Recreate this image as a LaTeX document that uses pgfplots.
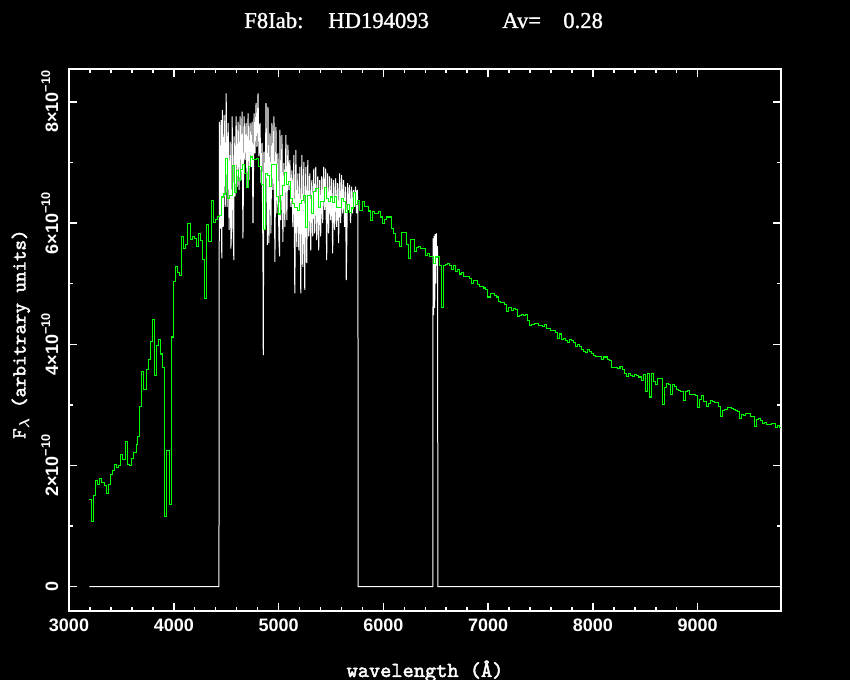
\documentclass[border=0pt]{standalone}
\usepackage{amsmath}
\usepackage{pgfplots}
\pgfplotsset{compat=1.18}
\usepackage{fontspec}
\setmainfont{Liberation Serif}
\newfontfamily\titlefont[FakeBold=1.2]{Liberation Serif}
\newfontfamily\tickfont{Liberation Sans}
\newfontfamily\labfont[FakeBold=2.2]{lmmono10-regular.otf}
\newcommand\yl[1]{#1×10\raisebox{0.85ex}{\fontsize{9.5}{9.5}\selectfont −10}}
\begin{document}
\begin{tikzpicture}
\useasboundingbox (0pt,0pt) rectangle (637.5pt,510pt);
\fill[black] (0pt,0pt) rectangle (637.5pt,510pt);
\begin{axis}[
  at={(51.75pt,51.75pt)}, anchor=south west,
  scale only axis, width=534pt, height=406.35pt,
  xmin=3000, xmax=9795, ymin=-0.40, ymax=8.54,
  axis line style={white, line width=1.3pt},
  tick align=inside,
  xtick={3000,4000,5000,6000,7000,8000,9000},
  xticklabels={3000,4000,5000,6000,7000,8000,9000},
  minor x tick num=4,
  ytick={0,2,4,6,8},
  yticklabels={0,\yl{2},\yl{4},\yl{6},\yl{8}},
  minor y tick num=1,
  major tick length=6pt, minor tick length=3.2pt,
  every tick/.style={white, line width=1.1pt},
  tick label style={white, font=\tickfont\bfseries\fontsize{13.5}{14}\selectfont},
  xticklabel shift=2.25pt,
  yticklabel style={rotate=90, anchor=south},
  yticklabel shift=4.5pt,
  xlabel={wavelength (Å)},
  ylabel={F\raisebox{-0.45ex}{\fontsize{11}{11}\selectfont$\boldsymbol{\lambda}$} (arbitrary units)},
  label style={white},
  xlabel style={font=\labfont\fontsize{16}{17}\selectfont, at={(axis description cs:0.5,-0.1218)}, anchor=base},
  ylabel style={font=\labfont\fontsize{15}{16}\selectfont, at={(axis description cs:-0.0611,0.511)}, anchor=base},
]
% observed spectrum (white)
\addplot[white, line width=0.75pt] coordinates {
(3194,0) (4431,0) (4434,5.91) (4436,7.67) (4446,5.91) (4452,7.70) (4458,5.42)
(4463,7.87) (4472,5.94) (4481,7.78) (4491,6.27) (4500,8.14) (4509,6.27)
(4519,7.65) (4528,5.89) (4538,7.34) (4545,5.58) (4551,5.86) (4557,7.76)
(4566,6.05) (4573,5.39) (4576,7.43) (4585,6.44) (4595,7.76) (4604,6.60)
(4614,7.67) (4623,6.55) (4633,7.76) (4642,6.71) (4652,7.84) (4660,5.75)
(4671,7.76) (4680,7.04) (4690,7.65) (4699,6.60) (4709,7.81) (4718,6.71)
(4728,7.65) (4737,6.93) (4747,7.67) (4756,6.00) (4766,7.81) (4775,7.15)
(4785,7.98) (4794,7.26) (4804,8.14) (4813,7.10) (4823,7.65) (4832,6.66)
(4842,7.32) (4851,5.42) (4854,3.82) (4858,5.90) (4861,7.18) (4870,5.89)
(4880,7.98) (4889,6.44) (4894,5.64) (4899,7.92) (4908,5.67) (4918,7.48)
(4927,5.83) (4937,7.65) (4946,6.55) (4956,7.76) (4965,5.36) (4975,7.59)
(4984,6.16) (4994,7.15) (5003,5.75) (5010,5.45) (5013,7.54) (5022,6.05)
(5032,7.45) (5041,5.69) (5051,6.99) (5060,5.94) (5070,7.45) (5079,6.05)
(5089,7.29) (5098,6.55) (5108,7.04) (5117,6.27) (5127,6.87) (5136,5.94)
(5146,7.12) (5155,4.84) (5165,7.21) (5174,5.61) (5184,6.82) (5193,5.55)
(5203,6.93) (5212,4.84) (5222,7.12) (5231,5.28) (5241,7.01) (5250,4.90)
(5260,6.93) (5269,5.34) (5279,7.04) (5288,5.78) (5298,6.82) (5307,5.55)
(5317,6.71) (5326,5.78) (5336,6.90) (5345,5.83) (5355,6.93) (5364,5.72)
(5374,6.77) (5383,5.55) (5393,6.71) (5402,5.78) (5412,6.77) (5421,6.00)
(5431,6.93) (5440,6.22) (5450,6.90) (5459,5.39) (5469,6.82) (5478,5.83)
(5488,6.77) (5497,6.05) (5507,6.74) (5516,5.50) (5526,6.71) (5535,5.89)
(5545,6.74) (5554,5.94) (5564,6.66) (5573,5.67) (5583,6.82) (5592,6.00)
(5602,6.79) (5611,6.16) (5621,6.71) (5630,5.94) (5640,6.60) (5646,5.06)
(5659,6.66) (5668,6.22) (5678,6.63) (5687,6.00) (5697,6.60) (5706,6.16)
(5716,6.55) (5725,6.27) (5735,6.60) (5744,6.16) (5751,6.55) (5757,6.30)
(5760,0) (6473,0) (6474,5.75) (6479,4.48) (6484,5.79) (6490,4.60)
(6495,5.82) (6500,5.00) (6505,5.83) (6510,5.30) (6515,5.62) (6518,5.50)
(6520,0) (9790,0)
};
% model spectrum (green steps)
\addplot[const plot, color={rgb,255:red,0;green,255;blue,0}, line width=0.85pt] coordinates {
(3194,1.44) (3213,1.08) (3232,1.51) (3251,1.76) (3270,1.69) (3289,1.79)
(3309,1.72) (3337,1.67) (3356,1.54) (3375,1.69) (3394,1.85) (3414,1.92)
(3433,2.02) (3452,1.97) (3471,2.00) (3490,2.18) (3509,2.10) (3538,2.40)
(3557,2.02) (3576,2.00) (3595,2.12) (3614,2.22) (3643,2.35) (3652,2.48)
(3671,2.98) (3690,3.55) (3709,3.26) (3738,3.59) (3757,3.75) (3776,4.05)
(3795,4.41) (3814,3.49) (3833,3.98) (3852,4.08) (3872,3.84) (3891,3.62)
(3910,1.16) (3929,2.25) (3957,1.36) (3977,4.12) (3996,5.04) (4015,5.29)
(4034,5.19) (4053,5.14) (4072,5.78) (4091,5.58) (4110,5.65) (4129,6.00)
(4158,5.73) (4177,5.78) (4196,5.75) (4215,5.62) (4234,5.83) (4253,5.72)
(4272,5.40) (4291,4.76) (4310,5.98) (4330,5.70) (4358,6.38) (4377,6.01)
(4396,6.06) (4415,6.11) (4435,6.13) (4454,6.43) (4473,6.48) (4492,7.07)
(4511,6.41) (4530,6.46) (4559,6.95) (4578,6.51) (4597,6.87) (4616,6.71)
(4635,6.89) (4654,6.97) (4673,6.82) (4692,6.59) (4711,6.94) (4730,7.09)
(4749,7.05) (4788,7.07) (4807,6.94) (4835,6.64) (4854,5.90) (4873,6.82)
(4893,6.79) (4912,6.61) (4931,6.97) (4978,6.44) (4998,6.15) (5017,6.46)
(5036,6.62) (5055,6.84) (5074,6.64) (5093,6.69) (5112,6.41) (5131,6.33)
(5150,6.26) (5179,6.21) (5198,6.33) (5217,6.38) (5236,6.46) (5255,5.93)
(5274,6.46) (5312,6.16) (5332,6.52) (5351,6.57) (5379,6.26) (5398,6.36)
(5437,6.59) (5456,6.41) (5475,6.36) (5494,6.43) (5513,6.34) (5532,6.44)
(5551,6.26) (5599,6.41) (5618,6.36) (5637,6.18) (5656,6.31) (5675,6.18)
(5694,6.25) (5713,6.51) (5732,6.31) (5751,6.38) (5770,6.21) (5799,6.36)
(5818,6.28) (5856,6.20) (5875,6.05) (5895,6.19) (5914,6.16) (5952,6.19)
(5971,6.10) (5990,6.00) (6009,6.06) (6028,6.10) (6076,5.91) (6095,5.83)
(6114,5.70) (6152,5.62) (6171,5.85) (6219,5.65) (6238,5.42) (6257,5.73)
(6295,5.53) (6314,5.60) (6334,5.62) (6353,5.58) (6400,5.47) (6419,5.50)
(6439,5.45) (6477,5.34) (6496,5.44) (6515,5.45) (6534,5.30) (6553,4.61)
(6572,5.30) (6591,5.32) (6610,5.34) (6629,5.30) (6648,5.24) (6668,5.30)
(6687,5.20) (6706,5.24) (6725,5.16) (6744,5.19) (6763,5.12) (6820,5.09)
(6839,5.01) (6858,5.06) (6897,4.99) (6916,4.96) (6934,4.95) (6953,4.93)
(6972,4.90) (6992,4.78) (7020,4.84) (7058,4.81) (7077,4.78) (7097,4.71)
(7116,4.69) (7154,4.66) (7173,4.54) (7192,4.61) (7221,4.56) (7240,4.59)
(7259,4.58) (7278,4.46) (7297,4.48) (7316,4.49) (7335,4.48) (7354,4.49)
(7373,4.40) (7392,4.31) (7411,4.33) (7440,4.35) (7478,4.31) (7516,4.30)
(7535,4.33) (7555,4.26) (7593,4.23) (7640,4.20) (7660,4.10) (7679,4.17)
(7698,4.08) (7717,4.10) (7736,4.07) (7755,4.03) (7774,4.08) (7793,4.07)
(7812,4.03) (7831,3.97) (7850,4.00) (7870,3.97) (7889,3.92) (7908,3.88)
(7927,3.87) (7946,3.92) (7965,3.88) (7984,3.85) (8003,3.82) (8022,3.80)
(8079,3.75) (8098,3.79) (8137,3.75) (8156,3.74) (8175,3.62) (8232,3.60)
(8258,3.64) (8280,3.59) (8299,3.52) (8318,3.47) (8337,3.52) (8356,3.49)
(8376,3.47) (8395,3.50) (8414,3.49) (8433,3.46) (8461,3.41) (8481,3.50)
(8500,3.22) (8519,3.52) (8538,3.13) (8557,3.52) (8576,3.39) (8595,3.34)
(8614,3.44) (8662,3.01) (8681,3.29) (8700,3.36) (8719,3.34) (8738,3.17)
(8757,3.34) (8776,3.31) (8795,3.26) (8815,3.24) (8834,3.22) (8862,3.08)
(8881,3.22) (8900,3.24) (8920,3.17) (8977,3.16) (8996,2.96) (9015,3.09)
(9034,3.16) (9053,3.06) (9082,2.98) (9101,3.03) (9120,3.08) (9139,3.06)
(9158,3.04) (9196,2.98) (9215,2.81) (9234,2.91) (9254,2.93) (9282,2.96)
(9320,2.94) (9339,2.93) (9358,2.91) (9378,2.89) (9397,2.78) (9416,2.84)
(9435,2.83) (9454,2.86) (9502,2.81) (9540,2.65) (9559,2.76) (9578,2.78)
(9597,2.75) (9616,2.70) (9635,2.71) (9654,2.68) (9702,2.70) (9740,2.63)
(9759,2.66) (9778,2.63) (9795,2.63)
};
\end{axis}
\begin{scope}[every node/.style={anchor=base west, text=white, inner sep=0pt, font=\titlefont\fontsize{17}{18}\selectfont}]
\node at (183pt,489pt) {F8Iab:};
\node at (246pt,489pt) {HD194093};
\node at (376.5pt,489pt) {Av=};
\node at (422.25pt,489pt) {0.28};
\end{scope}
\end{tikzpicture}
\end{document}
